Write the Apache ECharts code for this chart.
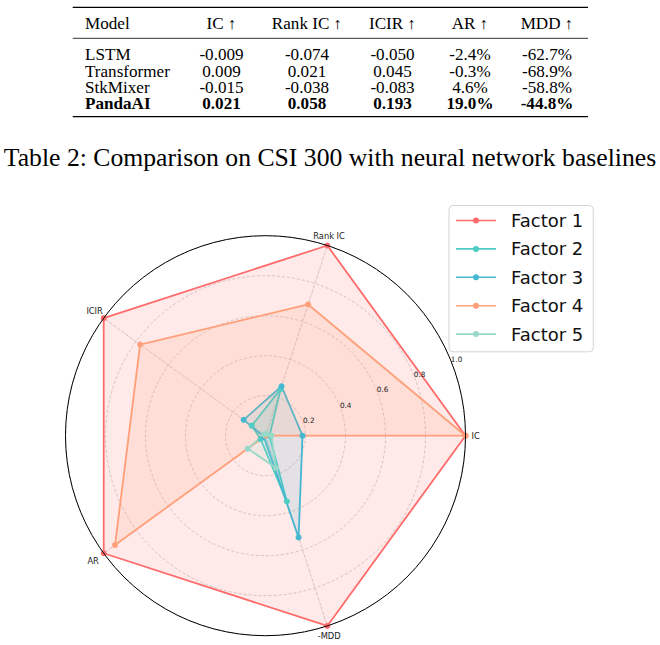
<!DOCTYPE html>
<html>
<head>
<meta charset="utf-8">
<script src="https://cdn.jsdelivr.net/npm/echarts@6/dist/echarts.min.js"></script>
<style>
  html, body { margin: 0; padding: 0; background: #fff; }
  #chart { width: 660px; height: 645px; }
</style>
</head>
<body>
<div id="chart"></div>
<script>
// ---------- data ----------
const categories = ['IC', 'Rank IC', 'ICIR', 'AR', '-MDD'];
const factorNames = ['Factor 1', 'Factor 2', 'Factor 3', 'Factor 4', 'Factor 5'];
const factor1 = [1.00, 1.00, 1.00, 1.00, 1.00];
const factor2 = [0.02, 0.245, 0.085, 0.03, 0.345];
const factor3 = [0.185, 0.26, 0.135, 0.01, 0.535];
const factor4 = [1.00, 0.69, 0.775, 0.93, 0.00];
const factor5 = [0.03, 0.01, 0.01, 0.11, 0.17];
const radiusTicks = ['0.2', '0.4', '0.6', '0.8', '1.0'];

const tableHeader = ['Model', 'IC \u2191', 'Rank IC \u2191', 'ICIR \u2191', 'AR \u2191', 'MDD \u2191'];
const tableModels = ['LSTM', 'Transformer', 'StkMixer', 'PandaAI'];
const tableIC = ['-0.009', '0.009', '-0.015', '0.021'];
const tableRankIC = ['-0.074', '0.021', '-0.038', '0.058'];
const tableICIR = ['-0.050', '0.045', '-0.083', '0.193'];
const tableAR = ['-2.4%', '-0.3%', '4.6%', '19.0%'];
const tableMDD = ['-62.7%', '-68.9%', '-58.8%', '-44.8%'];
const boldModel = 'PandaAI';
const caption = 'Table 2: Comparison on CSI 300 with neural network baselines';

// ---------- styles ----------
const colors = ['#FF6B6B', '#4ECDC4', '#45B7D1', '#FFA07A', '#98D8C8'];
const factorData = [factor1, factor2, factor3, factor4, factor5];
const CX = 265.5, CY = 435.7, R = 200;
const serif = '"Liberation Serif", "DejaVu Serif", serif';
const sans = '"DejaVu Sans", sans-serif';

// table layout
const colX = [85, 221.5, 307, 392.5, 470, 547];
const headerY = 24;
const rowY = [55, 71.3, 87.6, 103.9];
const ruleX = [72.7, 588];
const graphics = [];
function txt(text, x, y, align, bold, size, lh, sx) {
  graphics.push({
    type: 'text', silent: true,
    x: x, y: y, scaleX: sx || 1.07,
    style: {
      text: text, x: 0, y: 0,
      align: align, textAlign: align,
      verticalAlign: 'middle', textVerticalAlign: 'middle',
      fill: '#000',
      fontFamily: serif, fontSize: size || 16, lineHeight: lh || 15,
      fontWeight: bold ? 'bold' : 'normal'
    }
  });
}
tableHeader.forEach((h, i) => txt(h, colX[i], headerY, i === 0 ? 'left' : 'center', false));
const cols = [tableModels, tableIC, tableRankIC, tableICIR, tableAR, tableMDD];
tableModels.forEach((m, r) => {
  cols.forEach((col, c) => txt(col[r], colX[c], rowY[r], c === 0 ? 'left' : 'center', m === boldModel));
});
function rule(y, w) {
  graphics.push({ type: 'line', silent: true, shape: { x1: ruleX[0], y1: y, x2: ruleX[1], y2: y }, style: { stroke: '#000', lineWidth: w } });
}
rule(7.3, 1.3); rule(38.3, 0.8); rule(116.7, 1.3);
txt(caption, 330, 157, 'center', false, 25.7, 28, 1);

// angle-axis label shifts (to mimic matplotlib's label anchoring)
const catShift = {
  'Rank IC': { padding: [0, 0, 0, -15.9] },
  '-MDD': { padding: [0, 0, 0, -11.5] },
  'ICIR': { padding: [0, -4, 0, 0] }
};

const option = {
  animation: false,
  backgroundColor: '#fff',
  graphic: graphics,
  color: colors,
  legend: {
    orient: 'vertical', left: 449, top: 205.5,
    data: factorNames,
    icon: 'path://M0,2.2L40,2.2L40,3.8L0,3.8Z M17,3A3,3 0 1,1 23,3A3,3 0 1,1 17,3Z',
    itemWidth: 40, itemHeight: 6, itemGap: 10.4,
    textStyle: { fontSize: 18, fontFamily: sans, color: '#111', padding: [0, 0, 0, 10] },
    padding: [6, 10, 8.7, 7],
    backgroundColor: 'rgba(255,255,255,0.8)', borderColor: '#d4d4d4', borderWidth: 1, borderRadius: 4,
    selectedMode: false
  },
  radar: {
    center: [CX, CY], radius: R, startAngle: 0, shape: 'circle', splitNumber: 5,
    indicator: categories.map(n => ({ name: n, min: 0, max: 1 })),
    axisName: { show: false },
    splitArea: { show: false },
    splitLine: { lineStyle: { color: '#c4c4c4', type: [3, 2], width: 0.8 } },
    axisLine: { lineStyle: { color: '#c4c4c4', type: [3, 2], width: 0.8 } },
    axisTick: { show: false },
    axisLabel: { show: false }
  },
  polar: [
    { center: [CX, CY], radius: R },
    { center: [CX, CY], radius: R }
  ],
  angleAxis: [
    {
      polarIndex: 0, type: 'category', boundaryGap: false, startAngle: 0, clockwise: false,
      data: categories.map(n => catShift[n] ? { value: n, textStyle: catShift[n] } : n),
      axisLine: { show: false },
      axisTick: { show: false }, splitLine: { show: false },
      axisLabel: { margin: 6, fontSize: 8.3, fontFamily: sans, color: '#1a1a1a' },
      z: 5
    },
    {
      polarIndex: 1, type: 'value', min: 0, max: 360, startAngle: 22.5, clockwise: false,
      axisLine: { show: true, lineStyle: { color: '#000', width: 1 } },
      axisTick: { show: false }, axisLabel: { show: false }, splitLine: { show: false },
      z: 5
    }
  ],
  radiusAxis: [
    { polarIndex: 0, type: 'value', min: 0, max: 1, show: false },
    {
      polarIndex: 1, type: 'value', min: 0, max: 1, interval: 0.2,
      axisLine: { show: false }, axisTick: { show: false }, splitLine: { show: false },
      axisLabel: {
        margin: 0, align: 'center', verticalAlign: 'middle', padding: [0, 0, 11, 12.6],
        fontSize: 7.3, fontFamily: sans, color: '#222',
        formatter: v => { const i = Math.round(v / 0.2) - 1; return i >= 0 ? radiusTicks[i] : ''; }
      },
      z: 6
    }
  ],
  series: factorNames.map((name, i) => ({
    type: 'radar', name: name,
    symbol: 'circle', symbolSize: 6,
    lineStyle: { width: 1.8, color: colors[i] },
    itemStyle: { color: colors[i] },
    areaStyle: { color: colors[i], opacity: 0.15 },
    data: [{ value: factorData[i], name: name }]
  }))
};

const chart = echarts.init(document.getElementById('chart'), null, { renderer: 'svg', width: 660, height: 645 });
chart.setOption(option);
</script>
</body>
</html>
